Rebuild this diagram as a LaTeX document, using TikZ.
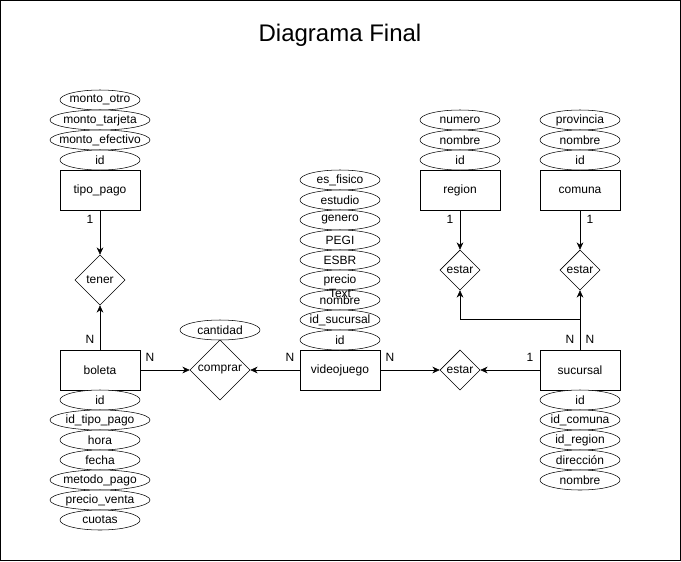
\documentclass[tikz,border=0pt]{standalone}
\usepackage{fontspec}
\setmainfont{Liberation Sans}
\usetikzlibrary{arrows.meta,shapes.geometric}

\tikzset{
	entidad/.style={draw, rectangle, minimum width=60pt, minimum height=30pt, inner sep=0pt},
	relacion/.style={draw, diamond, aspect=1, inner sep=0pt},
	card/.style={inner sep=0pt},
}

% attribute: name, x, y, width (px), text
\newcommand{\atributo}[5]{%
	\draw[fill=white] (#2,#3) ellipse [x radius={#4*0.375pt}, y radius=7.5pt];
	\node[inner sep=0pt] (#1) at (#2,#3) {#5};
}

\begin{document}
\begin{tikzpicture}[x=0.75pt,y=-0.75pt,>={Stealth[length=5.5pt,width=5pt]},font=\fontsize{9}{10}\selectfont]
	
	% --- Frame and title
	\useasboundingbox (0,0) rectangle (681,561);
	\draw (0.5,0.5) rectangle (680.5,560.5);
	\node[font=\fontsize{18}{21}\selectfont] (titulo) at (340,35) {Diagrama Final};
	
	% --- Entities
	\node[entidad] (tipopago) at (100,190) {tipo\_pago};
	\node[entidad] (boleta) at (100,370) {boleta};
	\node[entidad] (videojuego) at (340,370) {videojuego};
	\node[entidad] (sucursal) at (580,370) {sucursal};
	\node[entidad] (region) at (460,190) {region};
	\node[entidad] (comuna) at (580,190) {comuna};
	
	% --- Relations
	\node[relacion, minimum size=37.5pt] (tener) at (100,280) {tener};
	\node[relacion, minimum size=45pt] (comprar) at (220,370) {comprar};
	\node[relacion, minimum size=30pt] (estarvs) at (460,370) {estar};
	\node[relacion, minimum size=30pt] (estarreg) at (460,270) {estar};
	\node[relacion, minimum size=30pt] (estarcom) at (580,270) {estar};
	
	% --- Attributes
	\foreach \n/\y/\w/\t in {tpotro/100/80/monto\_otro, tptar/120/100/monto\_tarjeta, tpefe/140/100/monto\_efectivo, tpid/160/80/id}
		\atributo{\n}{100}{\y}{\w}{\t};
	\foreach \n/\y/\w/\t in {bid/400/80/id, btipo/420/100/id\_tipo\_pago, bhora/440/80/hora, bfecha/460/80/fecha, bmetodo/480/100/metodo\_pago, bprecio/500/100/precio\_venta, bcuotas/520/80/cuotas}
		\atributo{\n}{100}{\y}{\w}{\t};
	\foreach \n/\y/\t in {vfisico/180/es\_fisico, vestudio/200/estudio, vgenero/220/genero, vpegi/240/PEGI, vesbr/260/ESBR, vprecio/280/precio, vnombre/300/nombre, vsucursal/320/id\_sucursal, vid/340/id}
		\atributo{\n}{340}{\y}{80}{\t};
	\foreach \n/\y/\t in {sid/400/id, scomuna/420/id\_comuna, sregion/440/id\_region, sdir/460/dirección, snombre/480/nombre}
		\atributo{\n}{580}{\y}{80}{\t};
	\foreach \n/\y/\t in {rnumero/120/numero, rnombre/140/nombre, rid/160/id}
		\atributo{\n}{460}{\y}{80}{\t};
	\foreach \n/\y/\t in {cprov/120/provincia, cnombre/140/nombre, cid/160/id}
		\atributo{\n}{580}{\y}{80}{\t};
	\atributo{cantidad}{220}{330}{80}{cantidad}
	\node[card] (textolibre) at (340,293) {Text};
	
	% --- Connectors
	\draw[->] (tipopago) -- (tener);
	\draw[->] (boleta) -- (tener);
	\draw[->] (boleta) -- (comprar);
	\draw[->] (videojuego) -- (comprar);
	\draw[->] (videojuego) -- (estarvs);
	\draw[->] (sucursal) -- (estarvs);
	\draw[->] (region) -- (estarreg);
	\draw[->] (comuna) -- (estarcom);
	\draw[->] (sucursal) -- (estarcom);
	\draw[->] (sucursal.north) -- ++(0,-30) -| (estarreg.south);
	
	% --- Cardinalities
	\node[card] (ctp) at (90,219) {1};
	\node[card] (cbt) at (90,339) {N};
	\node[card] (cbc) at (150,357) {N};
	\node[card] (cvc) at (290,357) {N};
	\node[card] (cve) at (390,357) {N};
	\node[card] (cse) at (530,357) {1};
	\node[card] (creg) at (450,219) {1};
	\node[card] (ccom) at (590,219) {1};
	\node[card] (csr) at (570,339) {N};
	\node[card] (csc) at (590,339) {N};
	
\end{tikzpicture}
\end{document}
